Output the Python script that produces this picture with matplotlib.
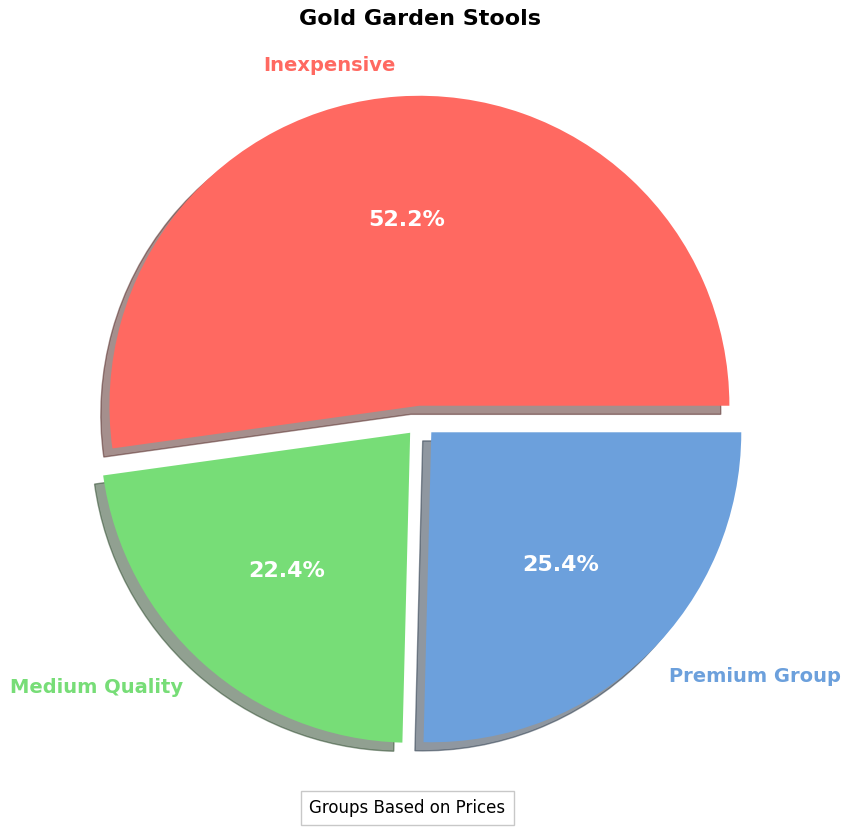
import matplotlib
matplotlib.use('Agg')
import matplotlib.pyplot as plt

# data
labels = ['Inexpensive', 'Medium Quality', 'Premium Group']
shares = [52.2, 22.4, 25.4]
colors = ['#FF6961', '#77DD77', '#6CA0DC']
explode = [0.05, 0.05, 0.05]

fig = plt.figure(figsize=(8.5, 8.27), dpi=100)
ax = fig.add_axes([0.0388, 0.0222, 0.9118, 0.937])

wedges, texts, autotexts = ax.pie(shares, labels=labels, colors=colors, explode=explode,
                                  autopct='%1.1f%%', shadow=True, startangle=0)

for t, c in zip(texts, colors):
    t.set_color(c)
    t.set_fontsize(14)
    t.set_fontweight('bold')
for t in autotexts:
    t.set_color('white')
    t.set_fontsize(16)
    t.set_fontweight('bold')

ax.set_aspect('equal')
ax.set_title('Gold Garden Stools', fontsize=16, fontweight='bold', pad=6)

fig.text(0.479, 0.023, 'Groups Based on Prices', ha='center', va='center', fontsize=12,
         bbox=dict(boxstyle='square,pad=0.5', facecolor='white', edgecolor='#c8c8c8'))

fig.savefig('out.png', dpi=100)
